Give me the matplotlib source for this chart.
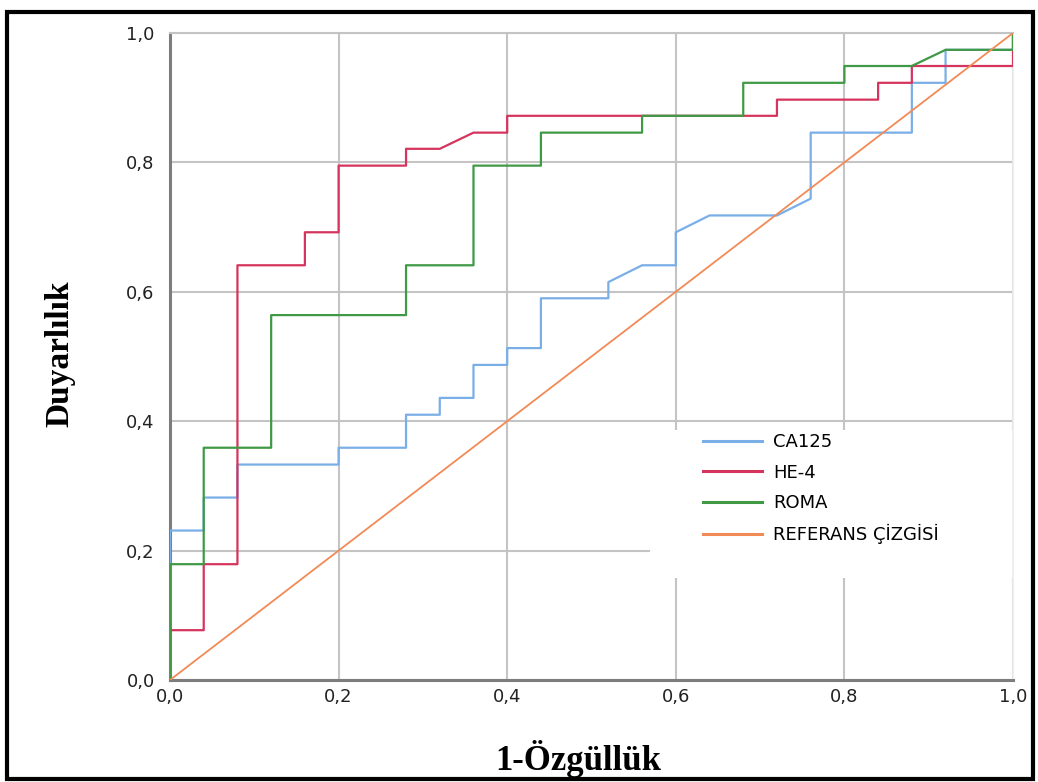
#!/usr/bin/env python3
"""ROC curves for CA125, HE-4 and ROMA (1-Özgüllük vs Duyarlılık)."""

import matplotlib
matplotlib.use("Agg")
import matplotlib.pyplot as plt
from matplotlib.patches import Rectangle
from matplotlib.ticker import FuncFormatter

# ROC vertices (1-specificity, sensitivity)
ca125_fpr = [0.0, 0.0, 0.04, 0.04, 0.08, 0.08, 0.20, 0.20, 0.28, 0.28, 0.32, 0.32,
             0.36, 0.36, 0.40, 0.40, 0.44, 0.44, 0.52, 0.52, 0.56, 0.60, 0.60, 0.64,
             0.72, 0.76, 0.76, 0.88, 0.88, 0.92, 0.92, 1.0, 1.0]
ca125_tpr = [0.0, 0.231, 0.231, 0.282, 0.282, 0.333, 0.333, 0.359, 0.359, 0.410, 0.410, 0.436,
             0.436, 0.487, 0.487, 0.513, 0.513, 0.590, 0.590, 0.615, 0.641, 0.641, 0.692, 0.718,
             0.718, 0.744, 0.846, 0.846, 0.923, 0.923, 0.974, 0.974, 1.0]

he4_fpr = [0.0, 0.0, 0.04, 0.04, 0.08, 0.08, 0.16, 0.16, 0.20, 0.20, 0.28, 0.28,
           0.32, 0.36, 0.40, 0.40, 0.72, 0.72, 0.84, 0.84, 0.88, 0.88, 1.0, 1.0]
he4_tpr = [0.0, 0.077, 0.077, 0.179, 0.179, 0.641, 0.641, 0.692, 0.692, 0.795, 0.795, 0.821,
           0.821, 0.846, 0.846, 0.872, 0.872, 0.897, 0.897, 0.923, 0.923, 0.949, 0.949, 1.0]

roma_fpr = [0.0, 0.0, 0.04, 0.04, 0.12, 0.12, 0.28, 0.28, 0.36, 0.36, 0.44, 0.44,
            0.56, 0.56, 0.68, 0.68, 0.80, 0.80, 0.88, 0.92, 1.0, 1.0]
roma_tpr = [0.0, 0.179, 0.179, 0.359, 0.359, 0.564, 0.564, 0.641, 0.641, 0.795, 0.795, 0.846,
            0.846, 0.872, 0.872, 0.923, 0.923, 0.949, 0.949, 0.974, 0.974, 1.0]

ref_x = [0.0, 1.0]
ref_y = [0.0, 1.0]

labels = ["CA125", "HE-4", "ROMA", "REFERANS ÇİZGİSİ"]
colors = ["#7aaee6", "#d5345c", "#3f9945", "#f28a55"]
ticks = [0.0, 0.2, 0.4, 0.6, 0.8, 1.0]


def comma_fmt(v, _pos):
    return f"{v:.1f}".replace(".", ",")


def main():
    W, H = 1038, 782
    fig = plt.figure(figsize=(W / 100, H / 100), dpi=100)
    fig.patch.set_facecolor("white")

    # axes box in pixels: x 170..1013, y 33..680
    ax = fig.add_axes([170 / W, 1 - 680 / H, 843 / W, 647 / H])
    ax.set_axisbelow(True)

    ax.plot(ca125_fpr, ca125_tpr, color=colors[0], linewidth=1.6, label=labels[0], zorder=3)
    ax.plot(he4_fpr, he4_tpr, color=colors[1], linewidth=1.6, label=labels[1], zorder=3)
    ax.plot(roma_fpr, roma_tpr, color=colors[2], linewidth=1.6, label=labels[2], zorder=3)
    ax.plot(ref_x, ref_y, color=colors[3], linewidth=1.3, label=labels[3], zorder=4)

    ax.set_xlim(0, 1)
    ax.set_ylim(0, 1)
    ax.set_xticks(ticks)
    ax.set_yticks(ticks)
    ax.xaxis.set_major_formatter(FuncFormatter(comma_fmt))
    ax.yaxis.set_major_formatter(FuncFormatter(comma_fmt))
    ax.tick_params(axis="both", length=0, labelsize=13, colors="#222222")
    ax.tick_params(axis="y", pad=11)
    ax.tick_params(axis="x", pad=6)

    ax.grid(True, color="#c4c4c4", linewidth=1.5)

    for side in ("left", "bottom"):
        ax.spines[side].set_color("#7d7d7d")
        ax.spines[side].set_linewidth(2.2)
    ax.spines["top"].set_color("#c4c4c4")
    ax.spines["top"].set_linewidth(1.5)
    ax.spines["right"].set_color("#ececec")
    ax.spines["right"].set_linewidth(1.2)

    # white area behind the legend hides the grid lines
    ax.add_patch(Rectangle((0.569, 0.158), 0.431, 0.228, transform=ax.transAxes,
                           facecolor="white", edgecolor="none", zorder=1.8))

    leg = ax.legend(loc="upper left", bbox_to_anchor=(0.632, 0.381), frameon=False,
                    fontsize=13, handlelength=3.3, handletextpad=0.6,
                    labelspacing=0.68, borderpad=0, borderaxespad=0)
    for line in leg.get_lines():
        line.set_linewidth(2.2)

    ax.set_xlabel("1-Özgüllük", family="Liberation Serif", fontweight="bold", fontsize=25)
    ax.xaxis.set_label_coords(0.484, -0.093)
    ax.xaxis.label.set_va("top")
    ax.set_ylabel("Duyarlılık", family="Liberation Serif", fontweight="bold", fontsize=24)
    ax.yaxis.set_label_coords(-0.112, 0.505)
    ax.yaxis.label.set_va("bottom")

    # black frame around the whole picture
    fig.patches.append(Rectangle((7 / W, 3 / H), 1026 / W, 767 / H, transform=fig.transFigure,
                                 fill=False, edgecolor="black", linewidth=3.0))

    fig.savefig("out.png", dpi=100)
    print("saved out.png")


if __name__ == "__main__":
    main()
